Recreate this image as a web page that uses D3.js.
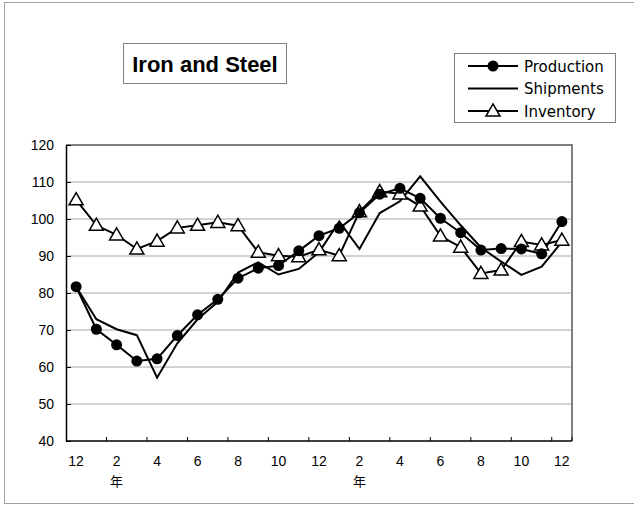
<!DOCTYPE html>
<html>
<head>
<meta charset="utf-8">
<script src="https://cdn.jsdelivr.net/npm/d3@7"></script>
<style>
  body { margin: 0; background: #fff; }
  text { font-family: "Liberation Sans", Arial, sans-serif; }
</style>
</head>
<body>
<svg id="chart"></svg>
<script>
// month of each point, from Dec to Dec two years later
var months = [12, 1, 2, 3, 4, 5, 6, 7, 8, 9, 10, 11, 12, 1, 2, 3, 4, 5, 6, 7, 8, 9, 10, 11, 12];
var yearMarks = [2, 14]; // index where the 年 label sits
var yTicks = [40, 50, 60, 70, 80, 90, 100, 110, 120];

var production = [81.7, 70.2, 66.0, 61.6, 62.2, 68.5, 74.1, 78.3, 84.0, 86.7, 87.4, 91.4, 95.5,
  97.5, 101.7, 106.7, 108.3, 105.6, 100.2, 96.3, 91.6, 92.0, 91.9, 90.6, 99.3];
var shipments = [81.7, 72.9, 70.2, 68.6, 57.1, 66.4, 72.9, 77.6, 85.5, 88.3, 85.0, 86.5, 91.0,
  99.3, 91.9, 101.6, 104.8, 111.5, 104.7, 98.3, 92.3, 88.5, 84.9, 87.1, 93.8];
var inventory = [105.2, 98.3, 95.7, 91.9, 94.0, 97.6, 98.3, 99.1, 98.2, 91.0, 90.1, 89.8, 91.7,
  90.1, 102.0, 107.4, 106.8, 103.5, 95.4, 92.4, 85.3, 86.2, 93.9, 93.0, 94.3];

var W = 634, H = 505;
var pLeft = 66, pRight = 572, pTop = 145, pBottom = 441;

var svg = d3.select("#chart").attr("width", W).attr("height", H);

// outer chart frame
svg.append("rect")
  .attr("x", 4.5).attr("y", 2.5)
  .attr("width", 640).attr("height", 501)
  .attr("fill", "none").attr("stroke", "#a0a0a0");

var idx = d3.range(months.length);
var x = d3.scaleBand().domain(idx).range([pLeft, pRight]).padding(0);
var cx = function (i) { return x(i) + x.bandwidth() / 2; };
var y = d3.scaleLinear().domain([40, 120]).range([pBottom, pTop]);

// gridlines
svg.append("g").selectAll("line")
  .data(yTicks.filter(function (t) { return t > 40 && t < 120; }))
  .enter().append("line")
  .attr("x1", pLeft).attr("x2", pRight)
  .attr("y1", function (d) { return y(d); })
  .attr("y2", function (d) { return y(d); })
  .attr("stroke", "#a6a6a6").attr("stroke-width", 1);

// plot area border (grey top / right)
svg.append("path")
  .attr("d", "M" + pLeft + "," + pTop + "H" + pRight + "V" + pBottom)
  .attr("fill", "none").attr("stroke", "#808080").attr("stroke-width", 2);

// y axis
var yAxis = svg.append("g")
  .attr("transform", "translate(" + pLeft + ",0)")
  .call(d3.axisLeft(y).tickValues(yTicks).tickSizeInner(-5).tickSizeOuter(0).tickPadding(12));
yAxis.select(".domain").attr("stroke", "#000").attr("stroke-width", 1.5);
yAxis.selectAll("text").attr("font-size", 14).attr("fill", "#000")
  .attr("font-family", "Liberation Sans, Arial, sans-serif");

// x axis: ticks every two categories, labels on every second point
svg.append("line")
  .attr("x1", pLeft).attr("x2", pRight)
  .attr("y1", pBottom).attr("y2", pBottom)
  .attr("stroke", "#000").attr("stroke-width", 1.5);
svg.append("g").selectAll("line")
  .data(idx.filter(function (i) { return i > 0 && i % 2 === 0; }).concat([25]))
  .enter().append("line")
  .attr("x1", function (i) { return i < 25 ? x(i) : pRight; })
  .attr("x2", function (i) { return i < 25 ? x(i) : pRight; })
  .attr("y1", pBottom).attr("y2", pBottom - 4)
  .attr("stroke", "#000");

svg.append("g").selectAll("text")
  .data(idx.filter(function (i) { return i % 2 === 0; }))
  .enter().append("text")
  .attr("x", function (i) { return cx(i); })
  .attr("y", 466)
  .attr("text-anchor", "middle")
  .attr("font-size", 14)
  .text(function (i) { return months[i]; });

svg.append("g").selectAll("text")
  .data(yearMarks)
  .enter().append("text")
  .attr("x", function (i) { return cx(i); })
  .attr("y", 486)
  .attr("text-anchor", "middle")
  .attr("font-size", 13)
  .style("font-family", "Noto Sans CJK JP, sans-serif")
  .text("年");

// series lines
var line = d3.line().x(function (d, i) { return cx(i); }).y(function (d) { return y(d); });
[production, shipments, inventory].forEach(function (s) {
  svg.append("path")
    .datum(s)
    .attr("d", line)
    .attr("fill", "none")
    .attr("stroke", "#000")
    .attr("stroke-width", 2)
    .attr("stroke-linejoin", "miter");
});

var tri = d3.symbol().type(d3.symbolTriangle).size(85);

svg.append("g").selectAll("path")
  .data(inventory)
  .enter().append("path")
  .attr("d", tri)
  .attr("transform", function (d, i) { return "translate(" + cx(i) + "," + (y(d) + 1) + ")"; })
  .attr("fill", "#fff").attr("stroke", "#000").attr("stroke-width", 1.5);

svg.append("g").selectAll("circle")
  .data(production)
  .enter().append("circle")
  .attr("cx", function (d, i) { return cx(i); })
  .attr("cy", function (d) { return y(d); })
  .attr("r", 5.5)
  .attr("fill", "#000");

// title box
svg.append("rect")
  .attr("x", 123.5).attr("y", 43.5).attr("width", 163).attr("height", 40)
  .attr("fill", "#fff").attr("stroke", "#808080");
svg.append("text")
  .attr("x", 205).attr("y", 72)
  .attr("text-anchor", "middle")
  .attr("font-size", 22)
  .attr("font-weight", "bold")
  .text("Iron and Steel");

// legend
var legend = svg.append("g");
legend.append("rect")
  .attr("x", 454.5).attr("y", 53.5).attr("width", 161).attr("height", 69)
  .attr("fill", "#fff").attr("stroke", "#808080");
var legendItems = [
  { name: "Production", marker: "circle" },
  { name: "Shipments", marker: "none" },
  { name: "Inventory", marker: "triangle" }
];
legendItems.forEach(function (d, k) {
  var ly = 66 + k * 22.5;
  legend.append("line")
    .attr("x1", 468).attr("x2", 518).attr("y1", ly).attr("y2", ly)
    .attr("stroke", "#000").attr("stroke-width", 2);
  if (d.marker === "circle") {
    legend.append("circle").attr("cx", 493).attr("cy", ly).attr("r", 5.5).attr("fill", "#000");
  } else if (d.marker === "triangle") {
    legend.append("path").attr("d", tri)
      .attr("transform", "translate(493," + (ly + 1) + ")")
      .attr("fill", "#fff").attr("stroke", "#000").attr("stroke-width", 1.5);
  }
  legend.append("text")
    .attr("x", 524).attr("y", ly + 5.5)
    .attr("font-size", 15)
    .style("font-family", "DejaVu Sans, sans-serif")
    .text(d.name);
});
</script>
</body>
</html>
